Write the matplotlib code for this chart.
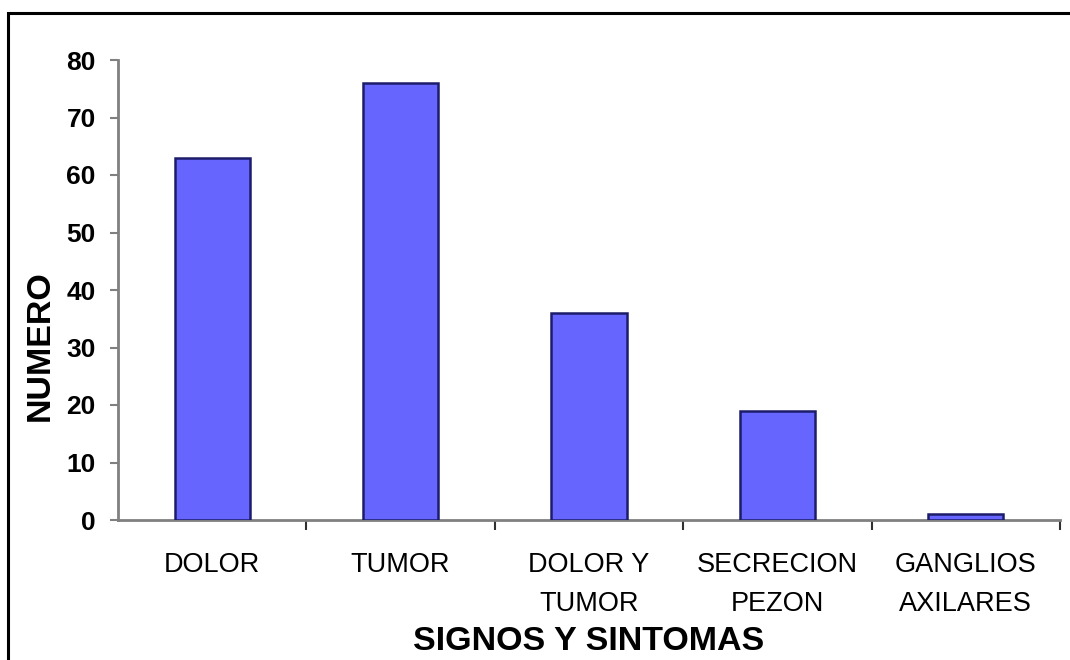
import matplotlib
matplotlib.use('Agg')
import matplotlib.pyplot as plt
from matplotlib.patches import Rectangle

plt.rcParams['font.family'] = ['Liberation Sans', 'DejaVu Sans']

# Signos y sintomas - numero de pacientes
categorias = ['DOLOR', 'TUMOR', 'DOLOR Y\nTUMOR', 'SECRECION\nPEZON', 'GANGLIOS\nAXILARES']
valores = [63, 76, 36, 19, 1]
yticks = [0, 10, 20, 30, 40, 50, 60, 70, 80]

fig = plt.figure(figsize=(10.7, 6.6), dpi=100)
ax = fig.add_axes([118 / 1070, 1 - 520 / 660, (1060 - 118) / 1070, 460 / 660])

pos = list(range(len(categorias)))
ax.bar(pos, valores, width=0.40, color='#6666ff', edgecolor='#1c1c6b', linewidth=1.8, zorder=3)

ax.set_xlim(-0.5, len(categorias) - 0.5)
ax.set_ylim(0, 80)

# y axis
ax.set_yticks(yticks)
ax.set_yticklabels([str(v) for v in yticks], fontsize=19, fontweight='bold')
ax.tick_params(axis='y', direction='out', length=6, width=1.5, color='#808080', pad=10)

# x axis: tick marks between categories, labels centred under the bars
ax.set_xticks([p + 0.5 for p in pos[:-1]] + [len(categorias) - 0.5])
ax.set_xticklabels([])
ax.tick_params(axis='x', which='major', direction='out', length=7, width=1.5, color='#303030')
ax.set_xticks(pos, minor=True)
ax.set_xticklabels(categorias, minor=True, fontsize=19.5, linespacing=1.65)
ax.tick_params(axis='x', which='minor', length=0, pad=23)

for side in ['top', 'right']:
    ax.spines[side].set_visible(False)
for side in ['left', 'bottom']:
    ax.spines[side].set_color('#808080')
    ax.spines[side].set_linewidth(2)

fig.text(40 / 1070, 1 - 346 / 660, 'NUMERO', rotation=90, ha='center', va='center',
         fontsize=24.5, fontweight='bold')
fig.text(589 / 1070, 1 - 641 / 660, 'SIGNOS Y SINTOMAS', ha='center', va='center',
         fontsize=24.5, fontweight='bold')

# black frame around the chart area
fig.patches.append(Rectangle((8 / 1070, -0.2), 1.2, 1 - 13 / 660 + 0.2, transform=fig.transFigure,
                             fill=False, edgecolor='black', linewidth=2.2, clip_on=False))

fig.savefig('out.png', dpi=100)
